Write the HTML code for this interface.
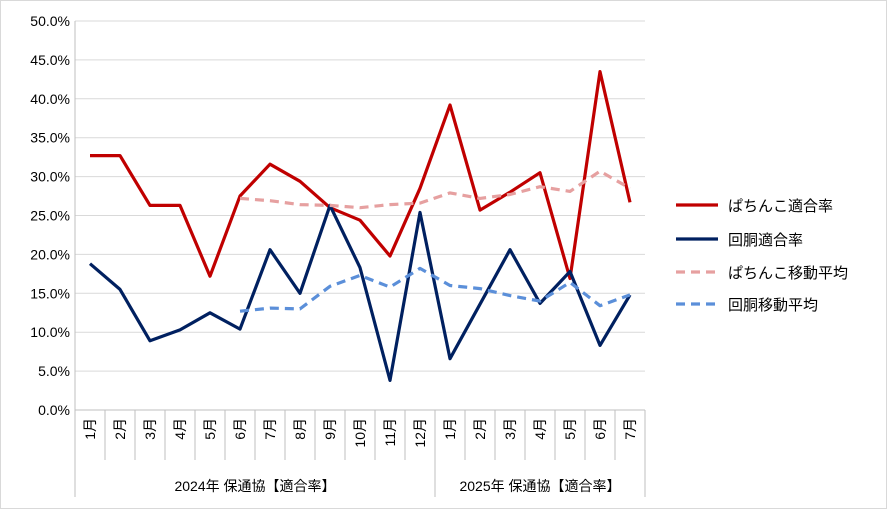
<!DOCTYPE html>
<html><head><meta charset="utf-8"><style>
body{margin:0;background:#fff}
svg{display:block;font-family:"Liberation Sans","Noto Sans CJK JP",sans-serif}
</style></head><body>
<svg id="c" width="887" height="509">
<rect x="0.5" y="0.5" width="886" height="508" fill="#fff" stroke="#d9d9d9"/>
<g id="grid"></g><g id="axes"></g><g id="series"></g><g id="legend"></g>
</svg>
<script>
const months=["1月","2月","3月","4月","5月","6月","7月","8月","9月","10月","11月","12月","1月","2月","3月","4月","5月","6月","7月"];
const groups=["2024年 保通協【適合率】","2025年 保通協【適合率】"];
const groupSizes=[12,7];
const yTicks=[0,5,10,15,20,25,30,35,40,45,50];
const pachinko=[32.7,32.7,26.3,26.3,17.2,27.5,31.6,29.4,26.0,24.4,19.8,28.5,39.2,25.7,28.0,30.5,16.9,43.5,26.7];
const kaido=[18.8,15.5,8.9,10.3,12.5,10.4,20.6,15.0,26.3,18.3,3.8,25.4,6.6,13.6,20.6,13.7,17.8,8.3,14.8];
const pachinkoMA=[null,null,null,null,null,27.2,26.9,26.4,26.3,26.0,26.4,26.6,27.9,27.2,27.7,28.7,28.1,30.7,28.5];
const kaidoMA=[null,null,null,null,null,12.7,13.1,13.0,15.9,17.3,15.8,18.2,16.0,15.6,14.7,14.0,16.4,13.4,14.8];
const NS="http://www.w3.org/2000/svg";
const L=75,R=645,T=21,B=410,step=(R-L)/months.length;
const x=i=>L+step*(i+0.5);
const y=v=>B-(v/50)*(B-T);
function mk(tag,attrs,parent,txt){const e=document.createElementNS(NS,tag);for(const k in attrs)e.setAttribute(k,attrs[k]);if(txt!=null)e.textContent=txt;parent.appendChild(e);return e;}
const grid=document.getElementById('grid'),axes=document.getElementById('axes'),ser=document.getElementById('series'),leg=document.getElementById('legend');
yTicks.forEach(t=>{
 const l=mk('line',{x1:L,x2:R,y1:y(t),y2:y(t),stroke:'#d9d9d9'},grid);
 
 
 const tx=mk('text',{x:L-5,y:y(t)+5,'text-anchor':'end','font-size':14,fill:'#000'},axes,t.toFixed(1)+'%');
 
 
});
const ax=mk('line',{x1:L,x2:L,y1:T,y2:497,stroke:'#bfbfbf'},axes);


for(let i=1;i<months.length;i++){
 const tk=mk('line',{x1:L+step*i,x2:L+step*i,y1:B,y2:460,stroke:'#bfbfbf'},axes);
 
 
}
months.forEach((m,i)=>{
 const tx=mk('text',{transform:`translate(${x(i)+5},418) rotate(-90)`,'text-anchor':'end','font-size':14,fill:'#000'},axes,m);
 
 
});
let start=0;
groups.forEach((g,gi)=>{
 const x0=L+step*start,x1=L+step*(start+groupSizes[gi]);
 const sep=mk('line',{x1:x1,x2:x1,y1:B,y2:497,stroke:'#bfbfbf'},axes);
 
 
 const tx=mk('text',{x:(x0+x1)/2,y:491,'text-anchor':'middle','font-size':14,fill:'#000'},axes,g);
 
 
 start+=groupSizes[gi];
});
const xa=mk('line',{x1:L,x2:R,y1:B,y2:B,stroke:'#bfbfbf'},axes);


function path(arr){let d='';arr.forEach((v,i)=>{if(v==null)return;d+=(d?'L':'M')+x(i).toFixed(1)+','+y(v).toFixed(1);});return d;}
const series=[
 {data:pachinko,color:'#c00000',dash:null,name:'ぱちんこ適合率',id:'series-pachinko'},
 {data:kaido,color:'#002060',dash:null,name:'回胴適合率',id:'series-kaido'},
 {data:pachinkoMA,color:'#e6a0a0',dash:'9,6',name:'ぱちんこ移動平均',id:'series-pachinko-ma'},
 {data:kaidoMA,color:'#5b8fd9',dash:'9,6',name:'回胴移動平均',id:'series-kaido-ma'}
];
const legY=[205,239,272,304];
series.forEach((s,k)=>{
 const p=mk('path',{d:path(s.data),fill:'none',stroke:s.color,'stroke-width':3.2,'stroke-linejoin':'round'},ser);
 if(s.dash)p.setAttribute('stroke-dasharray',s.dash);
 
 
 const g=mk('g',{},leg);
 
 
 const ll=mk('line',{x1:676,x2:718,y1:legY[k],y2:legY[k],stroke:s.color,'stroke-width':3.2},g);
 if(s.dash)ll.setAttribute('stroke-dasharray','9,6');
 mk('text',{x:728,y:legY[k]+6,'font-size':15,fill:'#000'},g,s.name);
});
</script>
</body></html>
